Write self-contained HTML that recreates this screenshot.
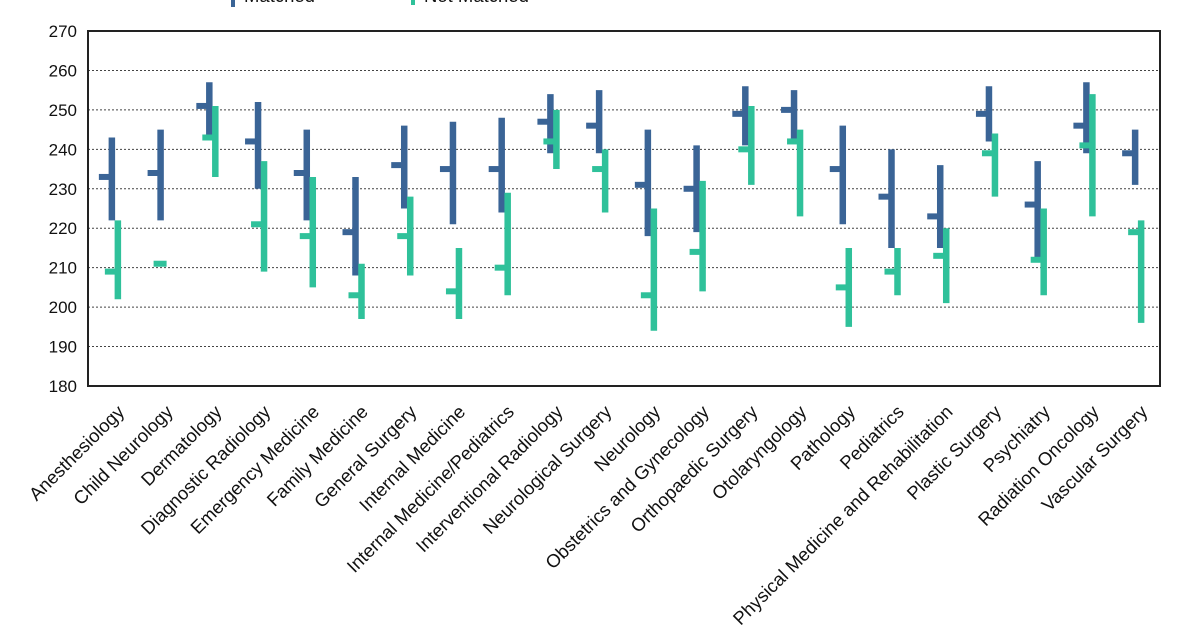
<!DOCTYPE html>
<html><head><meta charset="utf-8"><style>
html,body{margin:0;padding:0;background:#fff;}
svg{display:block;font-family:"Liberation Sans",Arial,sans-serif;}
</style></head><body>
<svg width="1200" height="633" xmlns="http://www.w3.org/2000/svg" id="c"></svg>
<script>
const s=document.getElementById('c');
const data=[
["Anesthesiology",222,243,233,202,222,209],
["Child Neurology",222,245,234,211,211,211],
["Dermatology",243,257,251,233,251,243],
["Diagnostic Radiology",230,252,242,209,237,221],
["Emergency Medicine",222,245,234,205,233,218],
["Family Medicine",208,233,219,197,211,203],
["General Surgery",225,246,236,208,228,218],
["Internal Medicine",221,247,235,197,215,204],
["Internal Medicine/Pediatrics",224,248,235,203,229,210],
["Interventional Radiology",239,254,247,235,250,242],
["Neurological Surgery",239,255,246,224,240,235],
["Neurology",218,245,231,194,225,203],
["Obstetrics and Gynecology",219,241,230,204,232,214],
["Orthopaedic Surgery",241,256,249,231,251,240],
["Otolaryngology",242,255,250,223,245,242],
["Pathology",221,246,235,195,215,205],
["Pediatrics",215,240,228,203,215,209],
["Physical Medicine and Rehabilitation",215,236,223,201,220,213],
["Plastic Surgery",242,256,249,228,244,239],
["Psychiatry",212,237,226,203,225,212],
["Radiation Oncology",239,257,246,223,254,241],
["Vascular Surgery",231,245,239,196,222,219]];
const L=88,R=1160,T=31,B=386;
const y=v=>B-(v-180)*(B-T)/90;
let h='';
for(let v=180;v<=270;v+=10){
 const yy=y(v);
 if(v>180&&v<270)h+=`<line x1="${L}" x2="${R}" y1="${yy}" y2="${yy}" stroke="#444" stroke-width="1" stroke-dasharray="2,2"/>`;
 h+=`<text x="77" y="${yy+6}" font-size="17" text-anchor="end" fill="#111">${v}</text>`;
}
h+=`<rect x="${L}" y="${T}" width="${R-L}" height="${B-T}" fill="none" stroke="#222" stroke-width="2"/>`;
const w=(R-L)/22;
const BL="#3a6496",GR="#2fc19a";
data.forEach((d,i)=>{
 const cx=L+w*i+w/2;
 const bx=cx-0.5, gx=cx+5.5;
 h+=`<line x1="${bx}" x2="${bx}" y1="${y(d[1])}" y2="${y(d[2])}" stroke="${BL}" stroke-width="6.5"/>`;
 h+=`<line x1="${bx-13}" x2="${bx}" y1="${y(d[3])}" y2="${y(d[3])}" stroke="${BL}" stroke-width="6"/>`;
 if(d[4]!==d[5])h+=`<line x1="${gx}" x2="${gx}" y1="${y(d[4])}" y2="${y(d[5])}" stroke="${GR}" stroke-width="6.5"/>`;
 h+=`<line x1="${gx-13}" x2="${gx}" y1="${y(d[6])}" y2="${y(d[6])}" stroke="${GR}" stroke-width="6"/>`;
 const ax=cx+13, ay=413;
 h+=`<text x="${ax}" y="${ay}" font-size="18.5" text-anchor="end" fill="#111" transform="rotate(-45 ${ax} ${ay})">${d[0]}</text>`;
});
h+=`<line x1="233" x2="233" y1="-2" y2="7" stroke="${BL}" stroke-width="4"/><text x="244" y="2" font-size="18.5" fill="#111">Matched</text>`;
h+=`<line x1="413" x2="413" y1="-2" y2="5" stroke="${GR}" stroke-width="4"/><text x="424" y="2" font-size="18.5" fill="#111">Not Matched</text>`;
s.innerHTML=h;
</script>
</body></html>
